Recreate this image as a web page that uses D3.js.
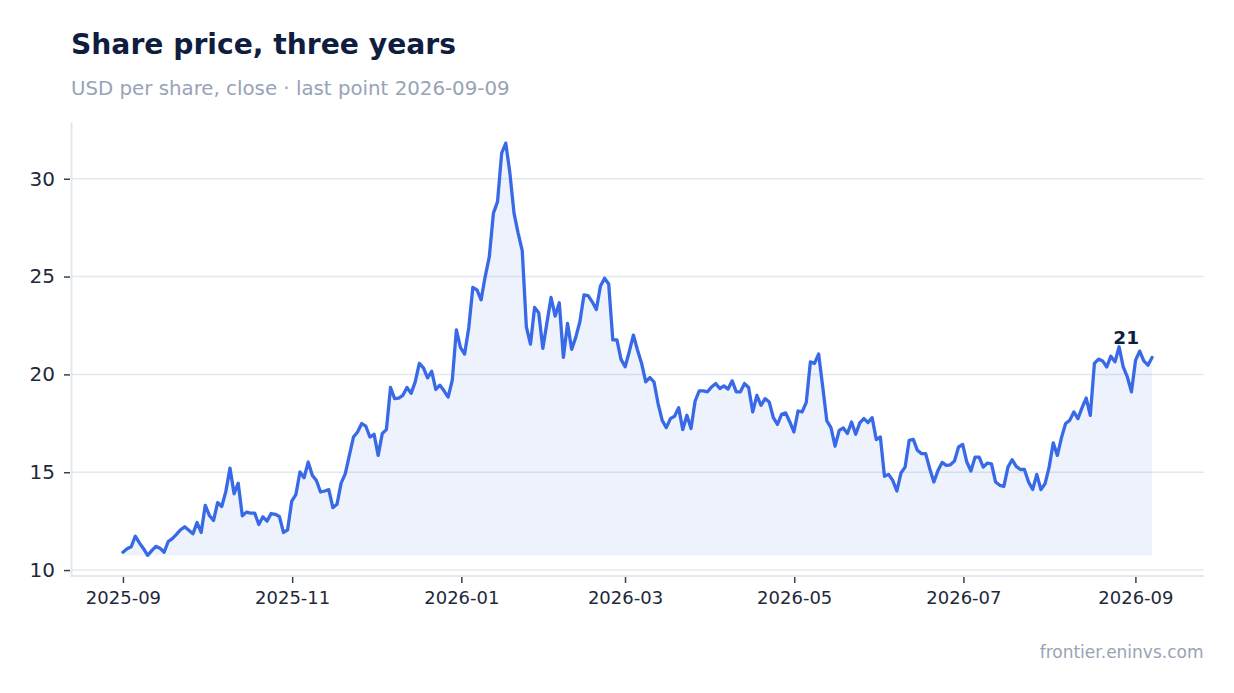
<!DOCTYPE html>
<html>
<head>
	<meta charset="utf-8">
	<title>Share price, three years</title>
	<script src="https://cdn.jsdelivr.net/npm/d3@7/dist/d3.min.js"></script>
	<style type="text/css">
		body {
			margin: 0;
			background: #ffffff;
		}
		svg text {
			font-family: "DejaVu Sans", sans-serif;
		}
		.grid line {
			stroke: #e3e8ef;
			stroke-width: 1.5;
		}
		.spine {
			stroke: #e3e8ef;
			stroke-width: 2;
			fill: none;
		}
		.axis path {
			display: none;
		}
		.axis line {
			stroke: #334155;
			stroke-width: 1.5;
		}
		.axis text {
			font-size: 18px;
			fill: #1e293b;
		}
		.axis.y text {
			font-size: 20px;
		}
	</style>
</head>
<body>
	<script type="text/javascript">
		// first and last date of the series, points are evenly spaced between them
		var startDate = "2025-09-01",
			endDate = "2026-09-07";

		// closing price, USD per share
		var prices = [
			10.91, 11.09, 11.19, 11.73, 11.39, 11.09, 10.75, 10.99, 11.21, 11.12,
			10.91, 11.46, 11.61, 11.82, 12.06, 12.21, 12.03, 11.85, 12.43, 11.92,
			13.31, 12.79, 12.53, 13.45, 13.25, 14.02, 15.21, 13.90, 14.44, 12.77,
			12.96, 12.91, 12.91, 12.33, 12.72, 12.50, 12.89, 12.85, 12.74, 11.92,
			12.06, 13.52, 13.85, 15.01, 14.72, 15.52, 14.84, 14.58, 13.99, 14.04,
			14.11, 13.19, 13.36, 14.44, 14.92, 15.86, 16.80, 17.06, 17.49, 17.35,
			16.80, 16.94, 15.86, 16.98, 17.18, 19.33, 18.76, 18.79, 18.93, 19.33,
			19.03, 19.62, 20.56, 20.33, 19.82, 20.16, 19.23, 19.45, 19.16, 18.84,
			19.70, 22.27, 21.37, 21.04, 22.37, 24.45, 24.32, 23.81, 25.00, 26.02,
			28.24, 28.83, 31.31, 31.82, 30.29, 28.24, 27.22, 26.32, 22.43, 21.55,
			23.42, 23.15, 21.33, 22.64, 23.93, 22.98, 23.66, 20.87, 22.61, 21.28,
			21.89, 22.69, 24.06, 24.03, 23.71, 23.32, 24.52, 24.91, 24.62, 21.76,
			21.76, 20.77, 20.39, 21.16, 22.01, 21.25, 20.56, 19.62, 19.84, 19.62,
			18.51, 17.65, 17.28, 17.74, 17.86, 18.30, 17.18, 17.91, 17.23, 18.64,
			19.16, 19.16, 19.11, 19.36, 19.53, 19.28, 19.41, 19.25, 19.67, 19.11,
			19.11, 19.53, 19.33, 18.08, 18.93, 18.42, 18.76, 18.59, 17.79, 17.45,
			17.96, 18.03, 17.57, 17.06, 18.13, 18.08, 18.57, 20.64, 20.56, 21.04,
			19.36, 17.62, 17.28, 16.33, 17.14, 17.26, 16.98, 17.57, 16.94, 17.52,
			17.74, 17.54, 17.79, 16.67, 16.80, 14.79, 14.89, 14.58, 14.04, 14.96,
			15.26, 16.63, 16.68, 16.12, 15.95, 15.95, 15.18, 14.50, 15.09, 15.50,
			15.35, 15.38, 15.57, 16.29, 16.42, 15.52, 15.06, 15.77, 15.77, 15.26,
			15.47, 15.43, 14.50, 14.33, 14.28, 15.26, 15.64, 15.30, 15.14, 15.14,
			14.50, 14.12, 14.89, 14.11, 14.41, 15.26, 16.50, 15.86, 16.77, 17.49,
			17.65, 18.08, 17.74, 18.30, 18.79, 17.91, 20.56, 20.78, 20.69, 20.38,
			20.93, 20.64, 21.41, 20.38, 19.87, 19.11, 20.73, 21.19, 20.69, 20.47,
			20.86
		];

		var yTicks = [10, 15, 20, 25, 30];

		var titleText = "Share price, three years",
			subtitleText = "USD per share, close \u00b7 last point 2026-09-09",
			sourceText = "frontier.eninvs.com";

		var width = 1234,
			height = 693,
			plotLeft = 71.5,
			plotRight = 1203.5,
			plotTop = 122.5,
			plotBottom = 576;

		var parse = d3.utcParse("%Y-%m-%d");
		var t0 = parse(startDate),
			t1 = parse(endDate);
		var step = (t1 - t0) / (prices.length - 1);

		var dataset = prices.map(function (p, i) {
			return { date: new Date(t0.getTime() + i * step), value: p };
		});

		var svg = d3.select("body")
					.append("svg")
					.attr("width", width)
					.attr("height", height);

		// 5% margin on both axes, like the original
		var span = t1 - t0;
		var xScale = d3.scaleUtc()
			.domain([new Date(t0.getTime() - span * 0.05), new Date(t1.getTime() + span * 0.05)])
			.range([plotLeft, plotRight]);

		var yMin = d3.min(prices),
			yMax = d3.max(prices),
			yPad = (yMax - yMin) * 0.05;
		var yScale = d3.scaleLinear()
			.domain([yMin - yPad, yMax + yPad])
			.range([plotBottom, plotTop]);

		// gridlines
		svg.append("g")
			.attr("class", "grid")
			.selectAll("line")
			.data(yTicks)
			.enter()
			.append("line")
			.attr("x1", plotLeft)
			.attr("x2", plotRight)
			.attr("y1", function (d) { return yScale(d); })
			.attr("y2", function (d) { return yScale(d); });

		// area under the line, down to the lowest close
		var area = d3.area()
			.x(function (d) { return xScale(d.date); })
			.y0(yScale(yMin))
			.y1(function (d) { return yScale(d.value); });

		svg.append("path")
			.datum(dataset)
			.attr("d", area)
			.attr("fill", "#3a6ae6")
			.attr("fill-opacity", 0.09);

		var line = d3.line()
			.x(function (d) { return xScale(d.date); })
			.y(function (d) { return yScale(d.value); });

		svg.append("path")
			.datum(dataset)
			.attr("d", line)
			.attr("fill", "none")
			.attr("stroke", "#3869e6")
			.attr("stroke-width", 3.3)
			.attr("stroke-linejoin", "round")
			.attr("stroke-linecap", "round");

		// spines
		svg.append("path")
			.attr("class", "spine")
			.attr("d", "M" + plotLeft + "," + plotTop + "V" + plotBottom + "H" + plotRight);

		var xAxis = d3.axisBottom(xScale)
			.ticks(d3.utcMonth.every(2))
			.tickFormat(d3.utcFormat("%Y-%m"))
			.tickSize(6)
			.tickPadding(8);

		var yAxis = d3.axisLeft(yScale)
			.tickValues(yTicks)
			.tickSize(6)
			.tickPadding(9);

		svg.append("g")
			.attr("class", "axis x")
			.attr("transform", "translate(0," + (plotBottom + 1) + ")")
			.call(xAxis);

		svg.append("g")
			.attr("class", "axis y")
			.attr("transform", "translate(" + (plotLeft - 1.5) + ",0)")
			.call(yAxis);

		// last value label
		var last = dataset[dataset.length - 1];
		svg.append("text")
			.attr("x", xScale(last.date) - 13)
			.attr("y", yScale(last.value) - 14)
			.attr("text-anchor", "end")
			.attr("font-size", "18.5px")
			.attr("font-weight", "bold")
			.attr("fill", "#0f1d40")
			.text(d3.format(".0f")(last.value));

		// titles
		svg.append("text")
			.attr("x", 71)
			.attr("y", 53.5)
			.attr("font-size", "28.2px")
			.attr("font-weight", "bold")
			.attr("fill", "#0f1d40")
			.text(titleText);

		svg.append("text")
			.attr("x", 71)
			.attr("y", 94.5)
			.attr("font-size", "19.8px")
			.attr("fill", "#97a3b6")
			.text(subtitleText);

		svg.append("text")
			.attr("x", plotRight)
			.attr("y", 658)
			.attr("text-anchor", "end")
			.attr("font-size", "17px")
			.attr("fill", "#97a3b6")
			.text(sourceText);
	</script>
</body>
</html>
